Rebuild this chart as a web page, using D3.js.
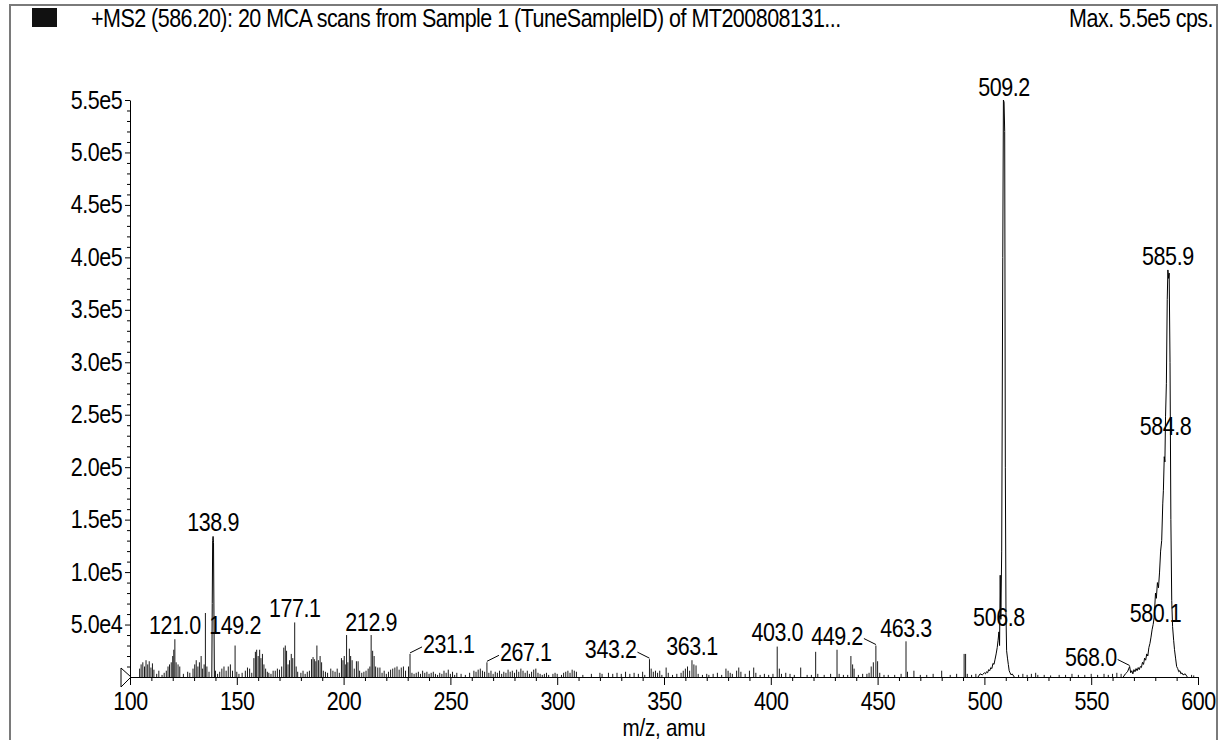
<!DOCTYPE html>
<html><head><meta charset="utf-8">
<script src="https://cdn.jsdelivr.net/npm/d3@7"></script>
<style>html,body{margin:0;padding:0;background:#fff;overflow:hidden}</style>
</head><body>
<svg id="chart" width="1228" height="740"></svg>
<script>
// ---------------- DATA ----------------
const titleText = "+MS2 (586.20): 20 MCA scans from Sample 1 (TuneSampleID) of MT200808131...";
const maxText = "Max. 5.5e5 cps.";
const xAxisTitle = "m/z, amu";
const xTickValues = [100, 150, 200, 250, 300, 350, 400, 450, 500, 550, 600];
const yTickValues = [5e4, 1e5, 1.5e5, 2e5, 2.5e5, 3e5, 3.5e5, 4e5, 4.5e5, 5e5, 5.5e5];

// centroid sticks [m/z, intensity cps]
const stickPeaks = [
  [104.5,8e3],[105.2,12e3],[106.0,14e3],[106.8,10e3],[107.5,16e3],[108.3,12e3],[109.0,15e3],[109.8,9e3],[110.5,13e3],[111.2,7e3],
  [112.5,3e3],[113.5,6e3],[115.0,2e3],[116.0,4e3],[117.0,6e3],[117.8,10e3],[118.5,12e3],[119.3,14e3],[120.0,20e3],[120.5,26e3],
  [121.0,36e3],[121.6,14e3],[122.5,12e3],[123.3,10e3],[125.0,3e3],[127.0,5e3],[128.0,4e3],[129.5,8e3],[130.3,12e3],[131.0,16e3],
  [131.8,10e3],[132.5,14e3],[133.3,20e3],[134.0,8e3],[134.7,12e3],[135.3,61e3],[136.0,10e3],[137.0,5e3],[140.0,6e3],[141.0,3e3],
  [142.0,5e3],[143.0,8e3],[144.0,10e3],[145.0,6e3],[146.0,10e3],[147.0,12e3],[148.0,6e3],[149.2,30e3],[150.0,5e3],[151.0,3e3],
  [152.5,4e3],[154.0,6e3],[155.0,9e3],[156.0,8e3],[157.0,4e3],[158.0,18e3],[158.7,24e3],[159.3,26e3],[160.0,20e3],[160.7,26e3],
  [161.3,18e3],[162.0,22e3],[162.7,12e3],[163.5,8e3],[164.3,5e3],[165.0,4e3],[166.0,3e3],[167.0,6e3],[168.0,6e3],[169.0,8e3],
  [170.0,7e3],[171.0,10e3],[172.0,28e3],[172.7,30e3],[173.3,25e3],[174.0,12e3],[174.7,16e3],[175.5,22e3],[176.2,18e3],[177.1,52e3],
  [177.8,10e3],[178.5,5e3],[180.0,4e3],[181.0,6e3],[182.0,3e3],[183.0,5e3],[184.0,6e3],[185.0,17e3],[185.7,19e3],[186.3,17e3],
  [187.0,15e3],[187.5,30e3],[188.2,16e3],[189.0,20e3],[189.7,14e3],[190.5,6e3],[191.5,5e3],[192.5,4e3],[194.0,8e3],[195.0,6e3],
  [196.0,5e3],[197.0,8e3],[198.0,4e3],[199.0,18e3],[199.7,16e3],[200.3,20e3],[201.0,12e3],[201.4,40e3],[202.0,14e3],[202.7,27e3],
  [203.3,20e3],[204.0,16e3],[205.0,8e3],[206.0,15e3],[206.8,15e3],[207.5,6e3],[208.5,4e3],[209.5,5e3],[210.5,6e3],[211.5,8e3],
  [212.3,10e3],[212.9,40e3],[213.6,25e3],[214.3,20e3],[215.0,10e3],[216.0,9e3],[217.0,9e3],[218.0,4e3],[219.0,6e3],[220.0,3e3],
  [221.0,5e3],[222.0,7e3],[223.0,8e3],[224.0,9e3],[225.0,10e3],[226.0,7e3],[227.0,9e3],[228.0,10e3],[229.0,6e3],[230.4,10e3],
  [231.1,22e3],[232.0,4e3],[233.0,3e3],[234.0,4e3],[235.0,5e3],[236.0,3e3],[237.0,6e3],[238.0,4e3],[239.0,5e3],[240.0,3e3],
  [241.0,4e3],[242.0,5e3],[243.0,3e3],[244.0,2e3],[245.0,4e3],[246.0,3e3],[247.0,6e3],[248.0,4e3],[249.0,7e3],[250.0,3e3],
  [251.0,5e3],[252.0,2e3],[253.0,4e3],[255.0,3e3],[257.0,2e3],[259.0,4e3],[261.0,6e3],[262.0,5e3],[263.0,7e3],[264.0,8e3],
  [265.0,6e3],[266.0,5e3],[267.1,14e3],[268.0,4e3],[269.0,6e3],[270.0,3e3],[271.0,5e3],[272.0,4e3],[273.0,6e3],[274.0,3e3],
  [275.0,5e3],[276.0,4e3],[277.0,7e3],[278.0,5e3],[279.0,6e3],[280.0,4e3],[281.0,7e3],[282.0,5e3],[283.0,8e3],[284.0,6e3],
  [285.0,4e3],[286.0,6e3],[287.0,3e3],[288.0,5e3],[289.0,7e3],[290.0,8e3],[291.0,4e3],[292.0,3e3],[293.0,2e3],[294.0,3e3],
  [295.0,4e3],[296.0,2e3],[298.0,3e3],[299.0,4e3],[300.0,3e3],[302.0,2e3],[303.0,4e3],[304.0,5e3],[305.0,6e3],[306.0,4e3],
  [307.0,7e3],[308.0,6e3],[309.0,5e3],[312.0,2e3],[316.0,3e3],[320.0,4e3],[321.0,3e3],[324.0,4e3],[326.0,3e3],[328.0,4e3],
  [330.0,3e3],[332.0,5e3],[334.0,3e3],[336.0,4e3],[338.0,3e3],[340.0,5e3],[341.0,2e3],[343.2,17e3],[344.0,8e3],[345.0,5e3],
  [346.0,6e3],[347.0,4e3],[348.0,6e3],[349.0,2e3],[351.0,9e3],[352.0,4e3],[354.0,2e3],[356.0,3e3],[358.0,4e3],[359.0,6e3],
  [360.0,8e3],[361.0,10e3],[362.0,6e3],[363.1,16e3],[364.0,12e3],[365.0,11e3],[366.0,3e3],[368.0,2e3],[370.0,3e3],[371.0,2e3],
  [373.0,3e3],[375.0,4e3],[377.0,2e3],[379.0,8e3],[380.0,6e3],[381.0,4e3],[382.0,3e3],[384.0,6e3],[385.0,9e3],[386.0,5e3],
  [388.0,3e3],[390.0,6e3],[392.0,9e3],[393.0,4e3],[395.0,2e3],[397.0,3e3],[399.0,2e3],[401.0,3e3],[403.0,29e3],[404.0,8e3],
  [405.0,3e3],[407.0,4e3],[409.0,3e3],[411.0,2e3],[414.0,9e3],[417.0,2e3],[419.0,2e3],[421.0,24e3],[422.0,3e3],[425.0,2e3],
  [428.0,3e3],[431.0,26e3],[432.0,3e3],[434.0,2e3],[436.0,2e3],[437.5,20e3],[438.3,12e3],[439.0,8e3],[441.0,2e3],[443.0,3e3],
  [445.0,3e3],[446.0,4e3],[447.0,10e3],[448.0,14e3],[449.2,30e3],[450.0,15e3],[451.0,4e3],[453.0,2e3],[455.0,2e3],[458.0,2e3],
  [461.0,3e3],[463.3,34e3],[464.0,5e3],[467.0,6e3],[470.0,2e3],[473.0,2e3],[476.0,3e3],[480.0,6e3],[484.0,2e3],[487.0,3e3],
  [490.5,22e3],[491.2,22e3],[492.0,3e3],[494.0,2e3],[496.0,3e3],[516.0,2e3],[518.0,3e3],[520.0,2e3],[522.0,3e3],[524.0,4e3],
  [525.0,2e3],[528.0,2e3],[531.0,1.5e3],[535.0,2e3],[538.0,2e3],[541.0,3e3],[544.0,2e3],[547.0,2e3],[550.0,3e3],[553.0,2e3],
  [556.0,3e3],[558.0,2e3],[560.0,3e3],[562.0,4e3],[564.0,3e3],[597.0,2e3],[598.0,1.5e3]
];

// profile traces [m/z, intensity cps]
const profile139 = [[138.3,0],[138.5,70e3],[138.7,130e3],[138.9,134e3],[139.1,128e3],[139.3,60e3],[139.5,0]];
const profile509 = [
  [497.0,0],[498.0,3e3],[499.0,2e3],[500.0,4e3],[500.5,3e3],[501.0,5e3],[501.5,4e3],[502.0,7e3],[502.5,6e3],[503.0,9e3],
  [503.5,8e3],[504.0,13e3],[504.5,12e3],[505.0,17e3],[505.5,22e3],[506.0,28e3],[506.4,35e3],[506.8,43e3],[507.1,30e3],[507.4,97e3],
  [507.7,55e3],[508.1,120e3],[508.6,400e3],[508.9,550e3],[509.2,548e3],[509.5,520e3],[509.8,200e3],[510.1,60e3],[510.4,25e3],[510.8,18e3],
  [511.2,12e3],[511.6,6e3],[512.0,4e3],[512.5,2e3],[513.0,3e3],[514.0,0]
];
const profile586 = [
  [565.0,0],[566.0,3e3],[567.0,5e3],[568.0,10e3],[568.5,4e3],[569.0,6e3],[569.5,3e3],[570.0,7e3],[570.5,5e3],[571.0,8e3],
  [571.5,6e3],[572.0,9e3],[572.5,7e3],[573.0,10e3],[573.5,9e3],[574.0,14e3],[574.5,12e3],[575.0,18e3],[575.5,16e3],[576.0,22e3],
  [576.5,20e3],[577.0,28e3],[577.5,32e3],[578.0,38e3],[578.5,45e3],[579.0,50e3],[579.5,57e3],[580.1,80e3],[580.5,75e3],[581.0,90e3],
  [581.5,85e3],[582.0,100e3],[582.5,120e3],[583.0,130e3],[583.5,165e3],[583.8,178e3],[584.2,210e3],[584.5,205e3],[584.8,248e3],[585.2,280e3],
  [585.6,360e3],[585.9,388e3],[586.2,380e3],[586.5,385e3],[586.9,300e3],[587.3,150e3],[587.7,73e3],[588.1,48e3],[588.6,35e3],[589.0,26e3],
  [589.5,18e3],[590.0,10e3],[590.5,8e3],[591.0,5e3],[591.5,6e3],[592.0,3e3],[592.5,4e3],[593.0,2e3],[594.0,3e3],[595.0,0]
];

// peak labels
const labelText = ["121.0","138.9","149.2","177.1","212.9","231.1","267.1","343.2","363.1","403.0","449.2","463.3","506.8","509.2","568.0","580.1","584.8","585.9"];
const labelMz = [121.0,138.9,149.2,177.1,212.9,231.1,267.1,343.2,363.1,403.0,449.2,463.3,506.8,509.2,568.0,580.1,584.8,585.9];
const labelIntensity = [36e3,134e3,36e3,52e3,39e3,22e3,14e3,17e3,16e3,29.5e3,30e3,33e3,44e3,549e3,10e3,48e3,226e3,388e3];

// ---------------- LAYOUT ----------------
const leaderSide = {"231.1":"right","267.1":"right","343.2":"left","449.2":"left","568.0":"left"};

const svg = d3.select('#chart');
const x = d3.scaleLinear().domain([100, 600]).range([130, 1198]);
const y = d3.scaleLinear().domain([0, 5.5e5]).range([677, 100]);

function detectNarrow(){
  const c = document.createElement('canvas').getContext('2d');
  const s = 'MMMMMmmmmm0123456789';
  c.font = '40px monospace'; const a = c.measureText(s).width;
  c.font = '40px "Liberation Sans Narrow", monospace'; const b = c.measureText(s).width;
  return Math.abs(a - b) > 1;
}
const hasNarrow = detectNarrow();
const FF = hasNarrow ? '"Liberation Sans Narrow", "Arial Narrow", sans-serif' : '"Liberation Sans", Arial, sans-serif';
const SX = hasNarrow ? 1.04 : 0.86;
const FS = 25;

function txt(g, px, py, s, anchor, size, ls){
  return g.append('text')
    .attr('transform', `translate(${px},${py}) scale(${SX},1)`)
    .attr('text-anchor', anchor)
    .style('font-family', FF).style('font-size', size + 'px')
    .style('letter-spacing', (ls || 0) + 'px')
    .attr('fill', '#000').text(s);
}

// frame
svg.append('path').attr('d', 'M10,740V5H1217V740').attr('fill', 'none').attr('stroke', '#7a7a7a').attr('stroke-width', 2);

// header
svg.append('rect').attr('x', 32).attr('y', 8).attr('width', 25).attr('height', 19).attr('fill', '#111');
txt(svg, 91, 27, titleText, 'start', 25, -0.6);
txt(svg, 1213, 27, maxText, 'end', 25, -0.6);

// y axis
const fmt = v => { const e = Math.floor(Math.log10(v) + 1e-9); return (v / Math.pow(10, e)).toFixed(1) + 'e' + e; };
svg.append('g').attr('transform', 'translate(130,0)')
  .call(d3.axisLeft(y).tickValues(yTickValues).tickSize(5).tickSizeOuter(0).tickPadding(4).tickFormat(fmt));
const minorY = d3.range(1e4, 5.5e5 + 1, 1e4).filter(v => Math.round(v / 1e4) % 5 !== 0);
svg.append('g').attr('transform', 'translate(130,0)')
  .call(d3.axisLeft(y).tickValues(minorY).tickSize(3).tickFormat(''))
  .call(g => g.select('.domain').remove());

// x axis
svg.append('g').attr('transform', 'translate(0,677)')
  .call(d3.axisBottom(x).tickValues(xTickValues).tickSize(8).tickSizeOuter(0).tickPadding(7));
const minorX = d3.range(110, 600, 10).filter(v => v % 50 !== 0);
svg.append('g').attr('transform', 'translate(0,677)')
  .call(d3.axisBottom(x).tickValues(minorX).tickSize(4).tickFormat(''))
  .call(g => g.select('.domain').remove());

svg.selectAll('.tick text')
  .style('font-family', FF).style('font-size', FS + 'px').style('letter-spacing', '-0.5px')
  .attr('transform', `scale(${SX},1)`);
svg.selectAll('.domain, .tick line').attr('stroke', '#000');

txt(svg, x(350), 736, xAxisTitle, 'middle', 24, -0.3);

// precursor triangle at axis origin
svg.append('path')
  .attr('d', `M${x(100) - 9},${y(0) - 9}L${x(100) + 1},${y(0)}L${x(100) - 9},${y(0) + 10}Z`)
  .attr('fill', '#fff').attr('stroke', '#000').attr('stroke-width', 1);

// spectrum sticks
const stickPath = stickPeaks.map(d => `M${x(d[0]).toFixed(2)},${y(0)}V${y(d[1]).toFixed(2)}`).join('');
svg.append('path').attr('d', stickPath).attr('fill', 'none').attr('stroke', '#1a1a1a').attr('stroke-width', 1);

// profile traces
const line = d3.line().x(d => x(d[0])).y(d => y(d[1]));
[profile139, profile509, profile586].forEach(p => {
  svg.append('path').attr('d', line(p)).attr('fill', 'none').attr('stroke', '#000').attr('stroke-width', 1);
});

// peak labels
const gl = svg.append('g');
labelText.forEach((t, i) => {
  const px = x(labelMz[i]), py = y(labelIntensity[i]);
  const side = leaderSide[t];
  if (!side) {
    txt(gl, px, py - 5, t, 'middle', FS, -0.5);
  } else {
    const s = side === 'right' ? 1 : -1;
    gl.append('line').attr('x1', px).attr('y1', py - 1).attr('x2', px + s * 12).attr('y2', py - 7)
      .attr('stroke', '#000').attr('stroke-width', 1);
    txt(gl, px + s * 13, py - 1, t, side === 'right' ? 'start' : 'end', FS, -0.5);
  }
});
</script>
</body></html>
